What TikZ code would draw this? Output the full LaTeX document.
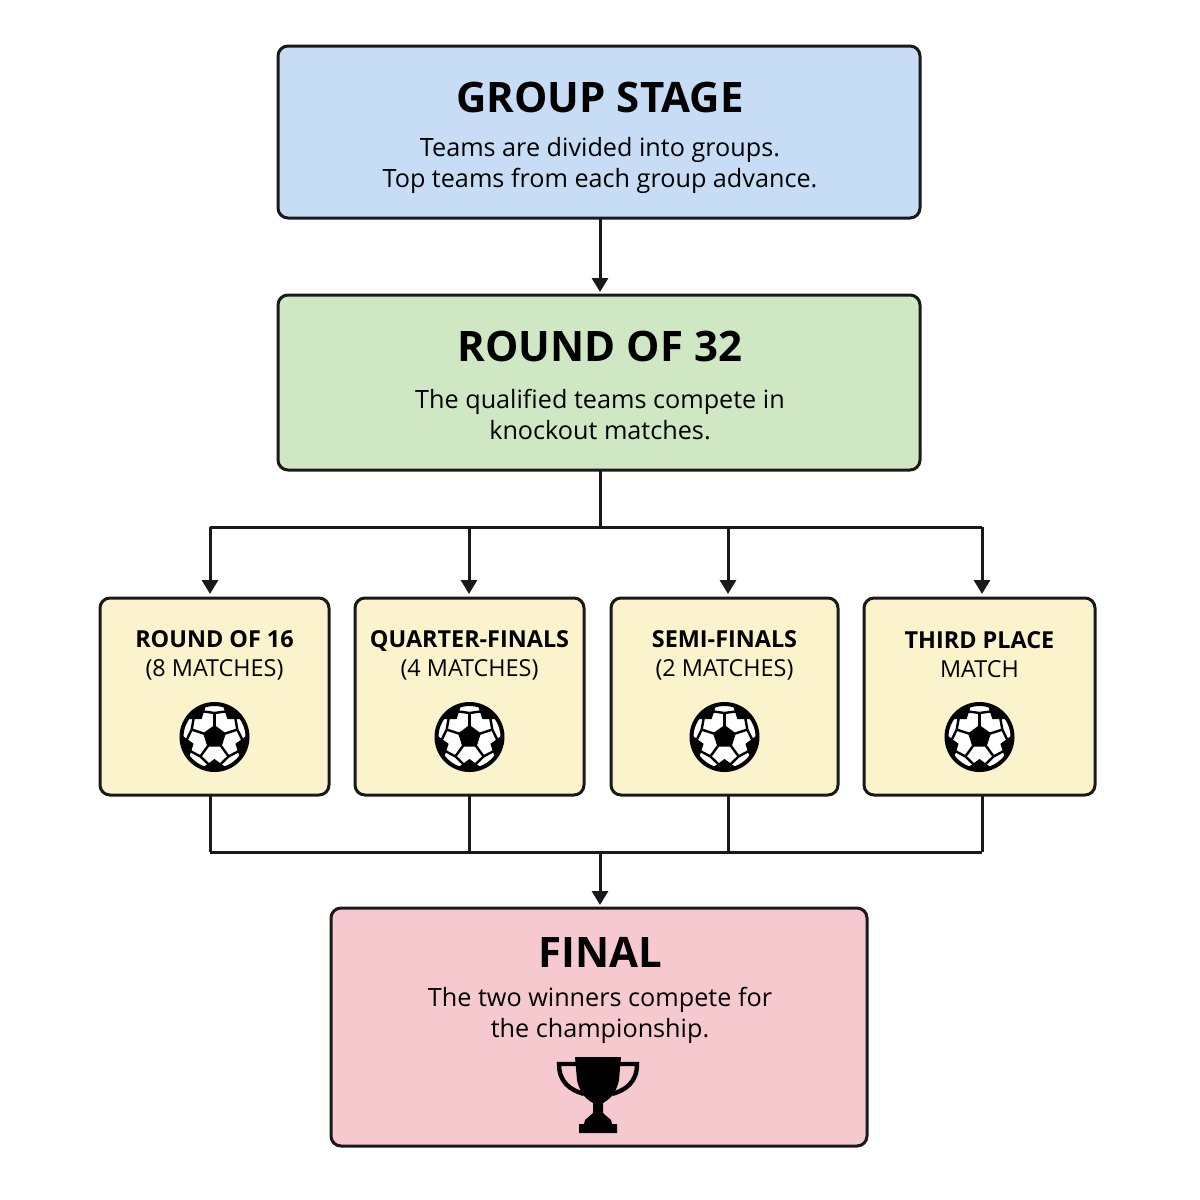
\documentclass[tikz,border=0pt]{standalone}
\usepackage{fontspec}
\setmainfont{Open Sans}[BoldFont={Open Sans Bold}]
\usetikzlibrary{arrows.meta}
\definecolor{cblue}{HTML}{C6DDF5}
\definecolor{cgreen}{HTML}{CFE8C3}
\definecolor{cyel}{HTML}{FBF3CC}
\definecolor{cpink}{HTML}{F6C9CF}
\begin{document}
\begin{tikzpicture}[x=0.5pt,y=-0.5pt,
 box/.style={draw=black!90,line width=1.5pt,rounded corners=5pt},
 conn/.style={line width=1.5pt,black!90},
 arr/.style={conn,-{Triangle[length=7pt,width=8pt]}},
 ttl/.style={font=\bfseries\fontsize{21}{24}\selectfont},
 body/.style={font=\fontsize{12.6}{15.5}\selectfont,align=center},
 stt/.style={font=\fontsize{11.7}{14.5}\selectfont,align=center}]
\useasboundingbox (0,0) rectangle (1200,1200);
\fill[white] (0,0) rectangle (1200,1200);
\newcommand{\myball}[2]{%
 \begin{scope}[shift={(#1,#2)}]
  \fill[white] (0,0) circle[radius=33];
  \begin{scope}
   \clip (0,0) circle[radius=33];
   \foreach \a in {-90,-18,54,126,198}{
     \draw[black,line width=1.2pt] (\a:11)--(\a:24);
   }
   \foreach \a in {90,162,234,306,18}{
     \draw[black,line width=1.2pt] (\a-36:24)--(\a:33);
     \draw[black,line width=1.2pt] (\a+36:24)--(\a:33);
     \fill[black] ([shift={(\a:35)}]\a+180:13)--([shift={(\a:35)}]\a+252:13)--([shift={(\a:35)}]\a+324:13)--([shift={(\a:35)}]\a+36:13)--([shift={(\a:35)}]\a+108:13)--cycle;
   }
   \fill[black] (-90:12)--(-18:12)--(54:12)--(126:12)--(198:12)--cycle;
  \end{scope}
  \draw[black,line width=2pt] (0,0) circle[radius=33];
 \end{scope}}
% boxes
\draw[box,fill=cblue] (278,46) rectangle (920,218);
\node[ttl] (gs) at (600,97) {GROUP STAGE};
\node[body] (gst) at (600,165) {Teams are divided into groups.\\Top teams from each group advance.};
\draw[box,fill=cgreen] (278,295) rectangle (920,470);
\node[ttl] (r32) at (600,346) {ROUND OF 32};
\node[body] (r32t) at (600,415) {The qualified teams compete in\\knockout matches.};
\coordinate (gsb) at (600,218); \coordinate (r32top) at (600,292);
\draw[arr] (gsb)--(r32top);
\coordinate (r32b) at (600,470); \coordinate (hub) at (600,527);
\draw[conn] (r32b)--(hub);
\draw[conn] (210,527)--(982,527);
\foreach \xa/\xb/\xc/\t/\s [count=\i] in {
 100/329/210/ROUND OF 16/(8 MATCHES),
 355/584/469/QUARTER-FINALS/(4 MATCHES),
 611/838/728/SEMI-FINALS/(2 MATCHES),
 864/1095/982/THIRD PLACE/MATCH}{
 \pgfmathsetmacro{\cx}{(\xa+\xb)/2}
 \draw[box,fill=cyel] (\xa,598) rectangle (\xb,795);
 \coordinate (top\i) at (\xc,527);
 \coordinate (in\i) at (\xc,594);
 \draw[arr] (top\i)--(in\i);
 \node[stt] (lab\i) at (\cx,655) {\textbf{\t}\\\s};
 \myball{\cx}{737}
 \coordinate (bot\i) at (\xc,795);
 \coordinate (lo\i) at (\xc,852);
 \draw[conn] (bot\i)--(lo\i);
}
\draw[conn] (210,852)--(982,852);
\coordinate (fin) at (600,852); \coordinate (fint) at (600,905);
\draw[arr] (fin)--(fint);
\draw[box,fill=cpink] (331,908) rectangle (867,1146);
\node[ttl] (ft) at (600,952) {FINAL};
\node[body] (ftt) at (600,1015) {The two winners compete for\\the championship.};
% trophy
\fill[black] (575,1057) -- (621,1057) -- (619,1080) .. controls (616,1095) and (608,1100) .. (603,1103) -- (603,1113) -- (611,1120) -- (612,1124) -- (617,1124) -- (617,1133) -- (579,1133) -- (579,1124) -- (584,1124) -- (585,1120) -- (593,1113) -- (593,1103) .. controls (588,1100) and (580,1095) .. (577,1080) -- cycle;
\draw[black,line width=2.2pt] (578,1064) -- (559,1064) .. controls (559,1082) and (570,1090) .. (584,1094);
\draw[black,line width=2.2pt] (618,1064) -- (637,1064) .. controls (637,1082) and (626,1090) .. (612,1094);
\end{tikzpicture}
\end{document}
